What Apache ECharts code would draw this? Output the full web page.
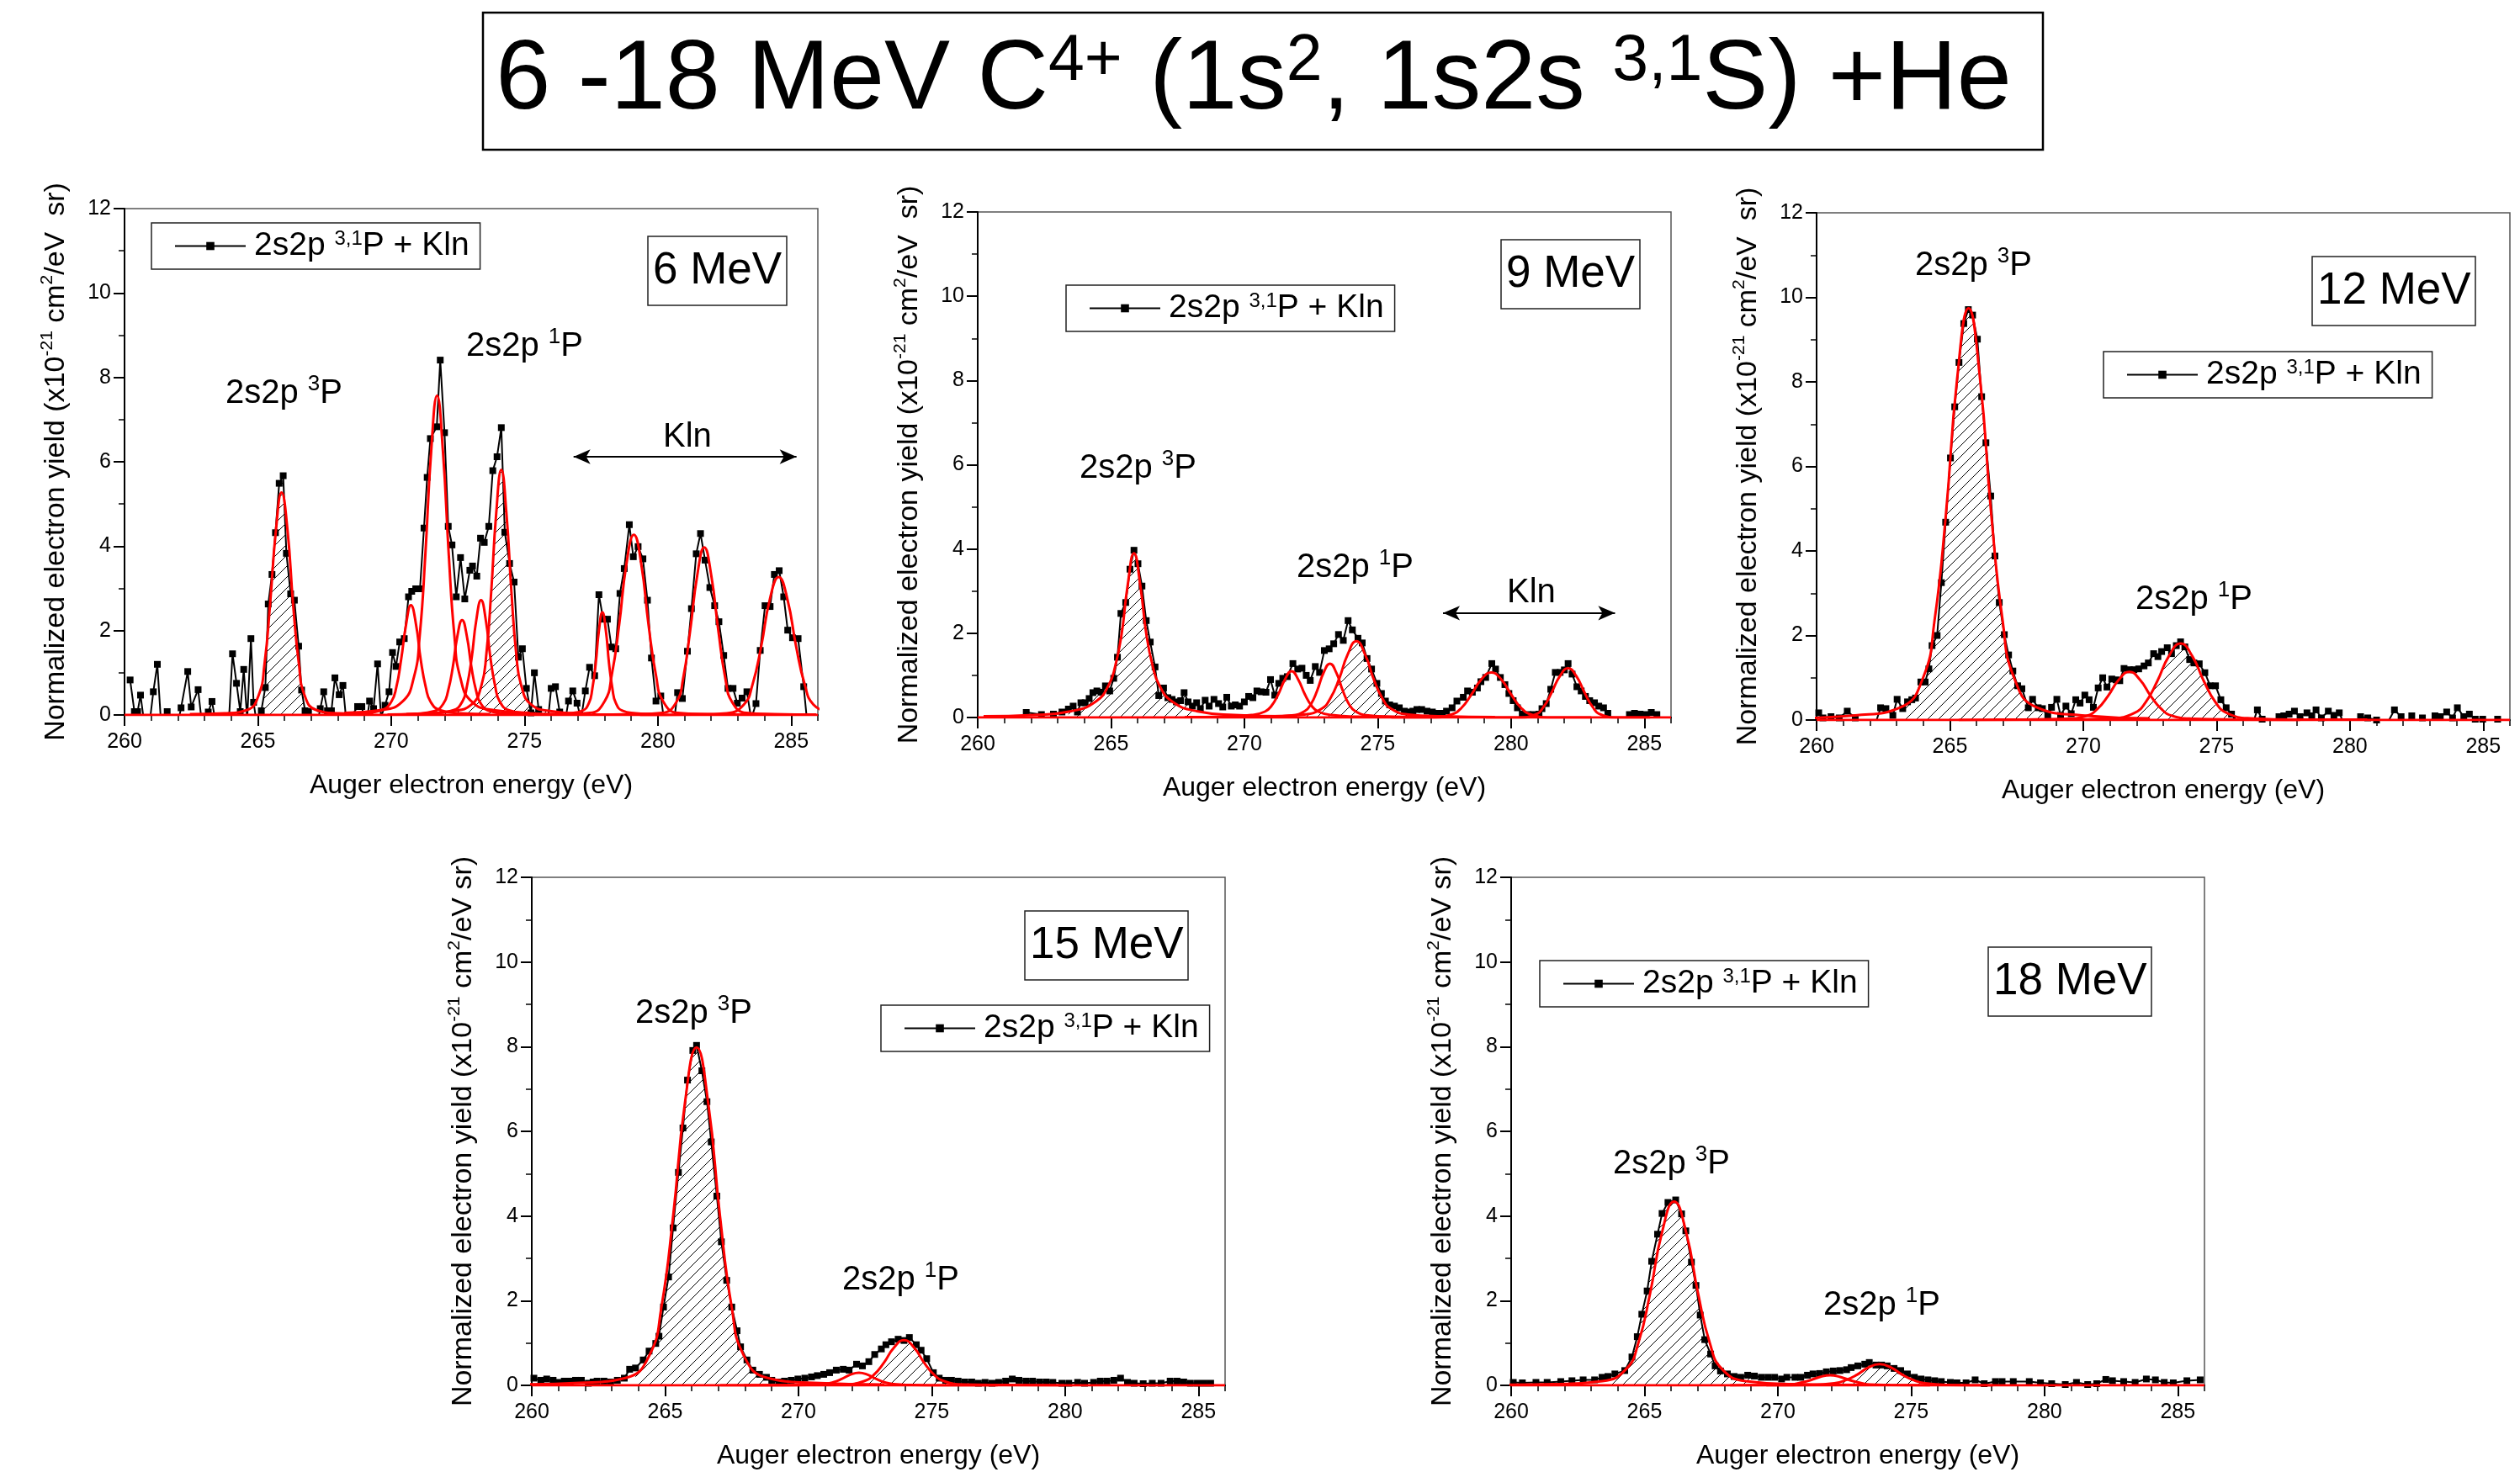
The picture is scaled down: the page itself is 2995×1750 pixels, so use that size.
<!DOCTYPE html>
<html><head><meta charset="utf-8">
<script src="https://cdn.jsdelivr.net/npm/echarts@6/dist/echarts.min.js"></script>
<style>html,body{margin:0;padding:0;background:#fff}#c{width:2995px;height:1750px}</style>
</head><body><div id="c"></div>
<script>
const FONT = '"Liberation Sans", Arial, Helvetica, sans-serif';
const panelNames = ['6 MeV', '9 MeV', '12 MeV', '15 MeV', '18 MeV'];
const xTicks = [260, 265, 270, 275, 280, 285];
const yTicks = [0, 2, 4, 6, 8, 10, 12];
const seriesName = '2s2p 3,1P + Kln';
const legendText = '2s2p {sup|3,1}P + Kln';
const titleText = '6 -18 MeV C{sup|4+} (1s{sup|2}, 1s2s {sup|3,1}S) +He';
const xName = 'Auger electron energy (eV)';
const yNameA = 'Normalized electron yield (x10{sup|-21} cm{sup|2}/eV  sr)';
const yNameB = 'Normalized electron yield (x10{sup|-21} cm{sup|2}/eV sr)';
const label3P = '2s2p {sup|3}P';
const label1P = '2s2p {sup|1}P';
const labelKln = 'Kln';

// measured spectra [energy eV, yield]
const data6 = [[260.21,0.83],[260.37,0.08],[260.49,0.08],[260.6,0.47],[260.76,-0.3],[260.92,-0.3],[261.08,0.55],[261.23,1.2],[261.38,-0.3],[261.6,0.08],[261.8,-0.3],[261.97,-0.3],[262.12,0.17],[262.37,1.03],[262.5,0.19],[262.76,0.6],[262.92,-0.3],[263.14,0.07],[263.28,0.32],[263.45,-0.3],[263.6,-0.3],[263.75,-0.3],[263.9,-0.3],[264.05,1.45],[264.2,0.75],[264.34,0.08],[264.47,1.08],[264.6,-0.1],[264.74,1.81],[264.84,0.3],[264.98,-0.3],[265.13,0.1],[265.28,0.65],[265.39,2.63],[265.53,3.33],[265.66,4.32],[265.8,5.49],[265.95,5.67],[266.07,3.83],[266.23,2.87],[266.37,2.72],[266.53,1.63],[266.64,0.59],[266.77,0.1],[266.9,0.08],[267.05,-0.3],[267.2,-0.3],[267.34,0.15],[267.47,0.55],[267.61,0.1],[267.76,0.1],[267.89,0.88],[268.05,0.48],[268.19,0.7],[268.34,-0.3],[268.5,-0.05],[268.74,0.2],[268.9,0.2],[269.05,-0.3],[269.19,0.33],[269.34,0.15],[269.49,1.21],[269.62,-0.05],[269.77,0.23],[269.92,0.55],[270.05,1.48],[270.18,1.15],[270.32,1.73],[270.49,1.81],[270.65,2.8],[270.77,2.93],[270.92,2.99],[271.08,2.99],[271.23,4.43],[271.35,5.63],[271.47,6.55],[271.71,6.83],[271.84,8.41],[272.0,6.69],[272.14,4.47],[272.28,4.03],[272.44,2.8],[272.6,3.73],[272.76,2.75],[272.95,3.43],[273.05,3.53],[273.21,3.29],[273.35,4.19],[273.49,4.09],[273.66,4.47],[273.81,5.79],[273.97,6.12],[274.13,6.81],[274.26,4.33],[274.44,3.59],[274.61,3.15],[274.77,1.37],[274.92,1.57],[275.07,0.63],[275.24,0.05],[275.37,1.0],[275.53,0.13],[275.7,-0.3],[275.85,-0.3],[276.0,0.63],[276.16,0.67],[276.32,0.07],[276.48,-0.3],[276.65,0.33],[276.81,0.57],[276.97,0.28],[277.12,-0.1],[277.28,0.57],[277.44,1.13],[277.63,0.93],[277.79,2.85],[277.95,2.27],[278.11,2.27],[278.26,1.61],[278.42,1.57],[278.58,2.88],[278.74,3.47],[278.93,4.51],[279.08,3.75],[279.26,3.99],[279.44,3.7],[279.61,2.72],[279.76,1.35],[279.93,0.33],[280.11,0.45],[280.27,-0.3],[280.43,-0.3],[280.58,-0.3],[280.74,0.53],[280.92,0.39],[281.11,1.51],[281.26,2.52],[281.44,3.82],[281.6,4.3],[281.77,3.67],[281.95,3.02],[282.13,2.59],[282.29,2.21],[282.47,1.41],[282.63,0.63],[282.82,0.63],[282.98,0.28],[283.16,0.4],[283.34,0.55],[283.5,-0.1],[283.68,0.27],[283.84,1.53],[284.02,2.59],[284.21,2.57],[284.37,3.33],[284.55,3.42],[284.72,2.8],[284.87,2.01],[285.05,1.83],[285.26,1.81],[285.47,0.67],[285.62,-0.3]];
const data9 = [[261.82,0.12],[262.39,0.07],[262.84,0.08],[263.16,0.13],[263.4,0.2],[263.58,0.27],[263.74,0.13],[263.87,0.35],[264.03,0.35],[264.18,0.45],[264.32,0.59],[264.47,0.63],[264.63,0.6],[264.79,0.75],[264.95,0.63],[265.1,0.93],[265.24,1.43],[265.37,2.47],[265.55,2.73],[265.71,3.52],[265.86,3.97],[266.01,3.65],[266.16,3.12],[266.32,2.3],[266.47,1.79],[266.65,1.2],[266.79,0.52],[266.97,0.7],[267.13,0.47],[267.29,0.43],[267.45,0.37],[267.61,0.4],[267.74,0.59],[267.89,0.37],[268.05,0.27],[268.21,0.35],[268.35,0.21],[268.53,0.41],[268.68,0.27],[268.86,0.43],[269.03,0.33],[269.19,0.25],[269.34,0.48],[269.51,0.27],[269.66,0.3],[269.82,0.27],[270.0,0.37],[270.16,0.5],[270.32,0.47],[270.47,0.63],[270.63,0.61],[270.81,0.6],[270.98,0.9],[271.14,0.53],[271.29,0.81],[271.44,0.93],[271.61,0.97],[271.82,1.28],[272.0,1.15],[272.16,1.17],[272.32,1.0],[272.47,0.88],[272.66,1.21],[272.82,1.07],[273.0,1.59],[273.18,1.63],[273.35,1.75],[273.53,1.97],[273.71,1.83],[273.89,2.3],[274.05,2.08],[274.26,1.88],[274.42,1.77],[274.6,1.4],[274.77,1.15],[274.97,0.81],[275.14,0.57],[275.29,0.39],[275.45,0.3],[275.63,0.27],[275.81,0.23],[276.0,0.15],[276.16,0.13],[276.32,0.15],[276.47,0.19],[276.65,0.19],[276.85,0.15],[277.05,0.13],[277.25,0.1],[277.42,0.1],[277.58,0.15],[277.79,0.23],[277.97,0.39],[278.21,0.48],[278.37,0.63],[278.55,0.6],[278.74,0.7],[278.87,0.85],[279.05,0.95],[279.28,1.28],[279.42,1.15],[279.6,0.95],[279.77,0.78],[279.92,0.57],[280.08,0.4],[280.24,0.23],[280.42,0.08],[280.63,0.07],[280.84,0.07],[281.05,0.08],[281.16,0.21],[281.32,0.33],[281.49,0.67],[281.66,1.07],[281.84,1.07],[282.0,1.13],[282.14,1.28],[282.29,1.03],[282.47,0.73],[282.63,0.63],[282.79,0.5],[282.95,0.4],[283.13,0.35],[283.29,0.27],[283.47,0.23],[283.63,0.1],[283.8,-0.3],[284.0,-0.3],[284.2,-0.3],[284.44,0.07],[284.63,0.1],[284.84,0.08],[285.07,0.07],[285.26,0.12],[285.47,0.07]];
const data12 = [[260.08,0.17],[260.24,0.05],[260.54,0.08],[260.85,0.05],[261.15,0.21],[261.45,0.05],[261.7,-0.3],[262.0,-0.3],[262.2,-0.1],[262.4,0.29],[262.6,0.27],[262.86,0.11],[263.02,0.49],[263.23,0.27],[263.41,0.43],[263.57,0.48],[263.71,0.52],[263.91,0.9],[264.07,0.9],[264.21,1.21],[264.33,1.76],[264.52,2.0],[264.68,3.25],[264.84,4.68],[265.02,6.2],[265.18,7.41],[265.34,8.46],[265.52,9.38],[265.69,9.71],[265.85,9.58],[266.03,9.01],[266.19,7.65],[266.35,6.56],[266.53,5.3],[266.69,3.88],[266.85,2.78],[267.04,2.02],[267.2,1.54],[267.36,1.16],[267.54,0.81],[267.7,0.74],[267.94,0.29],[268.1,0.49],[268.31,0.29],[268.47,0.27],[268.67,0.1],[268.81,0.3],[269.01,0.49],[269.15,0.11],[269.35,0.33],[269.55,0.15],[269.72,0.48],[269.88,0.4],[270.06,0.59],[270.22,0.48],[270.38,0.3],[270.56,0.76],[270.73,1.0],[270.89,0.78],[271.07,0.97],[271.23,0.95],[271.37,0.93],[271.53,1.22],[271.73,1.19],[271.9,1.19],[272.08,1.21],[272.28,1.28],[272.44,1.35],[272.64,1.57],[272.8,1.5],[272.94,1.62],[273.15,1.71],[273.31,1.57],[273.49,1.76],[273.65,1.85],[273.81,1.73],[273.99,1.43],[274.15,1.35],[274.35,1.33],[274.56,1.12],[274.76,0.81],[274.96,0.81],[275.16,0.48],[275.36,0.29],[275.56,0.14],[275.8,-0.1],[276.1,-0.3],[276.35,-0.1],[276.53,0.24],[276.71,0.02],[276.95,-0.2],[277.15,-0.1],[277.34,0.08],[277.52,0.1],[277.72,0.14],[277.92,0.21],[278.13,0.08],[278.39,0.17],[278.57,0.1],[278.73,0.24],[278.93,0.05],[279.19,0.21],[279.4,0.11],[279.6,0.17],[279.85,-0.2],[280.1,-0.2],[280.4,0.08],[280.67,0.05],[281.0,0.0],[281.3,-0.2],[281.67,0.24],[281.92,0.08],[282.1,-0.1],[282.32,0.1],[282.5,-0.1],[282.72,0.05],[282.95,-0.1],[283.19,0.1],[283.39,0.08],[283.63,0.19],[283.85,0.05],[284.03,0.29],[284.27,0.08],[284.48,0.14],[284.7,0.02],[284.98,0.02],[285.25,-0.1],[285.54,0.02]];
const data15 = [[260.08,0.17],[260.34,0.12],[260.56,0.15],[260.8,0.12],[261.02,0.07],[261.22,0.1],[261.44,0.1],[261.64,0.12],[261.86,0.12],[262.12,0.05],[262.3,0.08],[262.45,0.1],[262.71,0.1],[262.96,0.08],[263.21,0.12],[263.47,0.17],[263.67,0.38],[263.89,0.41],[264.18,0.6],[264.4,0.81],[264.65,0.99],[264.77,1.16],[264.94,1.85],[265.13,2.56],[265.3,3.72],[265.5,5.03],[265.67,6.08],[265.84,7.21],[266.04,7.91],[266.18,8.03],[266.38,7.43],[266.57,6.7],[266.73,5.75],[266.94,4.47],[267.11,3.39],[267.31,2.48],[267.5,1.85],[267.7,1.29],[267.83,0.91],[268.07,0.6],[268.29,0.36],[268.54,0.26],[268.8,0.19],[269.0,0.12],[269.26,0.08],[269.48,0.1],[269.73,0.12],[269.98,0.15],[270.24,0.17],[270.49,0.2],[270.71,0.23],[270.95,0.26],[271.17,0.3],[271.42,0.36],[271.68,0.38],[271.9,0.36],[272.18,0.5],[272.4,0.46],[272.64,0.56],[272.86,0.73],[273.11,0.86],[273.28,0.96],[273.49,1.03],[273.74,1.09],[273.96,1.06],[274.16,1.13],[274.42,0.96],[274.6,0.83],[274.81,0.63],[275.06,0.3],[275.28,0.17],[275.52,0.12],[275.74,0.12],[275.99,0.1],[276.24,0.08],[276.5,0.08],[276.75,0.05],[277.0,0.07],[277.26,0.05],[277.51,0.07],[277.77,0.1],[278.02,0.15],[278.27,0.12],[278.53,0.1],[278.78,0.1],[279.04,0.08],[279.29,0.08],[279.54,0.07],[279.88,0.05],[280.14,0.05],[280.47,0.07],[280.73,0.05],[281.07,0.07],[281.32,0.1],[281.57,0.1],[281.83,0.12],[282.08,0.17],[282.34,0.07],[282.59,0.05],[282.93,0.04],[283.27,0.05],[283.6,0.05],[283.94,0.1],[284.2,0.1],[284.45,0.08],[284.7,0.05],[284.96,0.05],[285.21,0.05],[285.46,0.05]];
const data18 = [[260.08,0.07],[260.42,0.06],[260.93,0.07],[261.35,0.07],[261.86,0.09],[262.28,0.11],[262.7,0.13],[263.13,0.13],[263.41,0.19],[263.63,0.21],[263.89,0.27],[264.26,0.35],[264.53,0.67],[264.73,1.15],[264.9,1.68],[265.1,2.23],[265.27,2.93],[265.49,3.57],[265.66,4.06],[265.88,4.32],[266.17,4.38],[266.39,4.05],[266.55,3.65],[266.76,2.91],[266.93,2.36],[267.09,1.66],[267.26,1.08],[267.48,0.74],[267.65,0.46],[267.85,0.34],[268.11,0.27],[268.36,0.21],[268.61,0.19],[268.87,0.24],[269.12,0.22],[269.38,0.19],[269.63,0.19],[269.88,0.19],[270.14,0.15],[270.34,0.19],[270.64,0.19],[270.86,0.19],[271.11,0.24],[271.32,0.27],[271.57,0.28],[271.82,0.32],[272.08,0.34],[272.33,0.35],[272.58,0.37],[272.75,0.42],[273.0,0.46],[273.26,0.5],[273.43,0.54],[273.68,0.48],[273.89,0.48],[274.1,0.46],[274.36,0.4],[274.61,0.35],[274.86,0.27],[275.12,0.19],[275.37,0.15],[275.63,0.13],[275.88,0.11],[276.13,0.09],[276.47,0.07],[276.72,0.06],[277.06,0.06],[277.4,0.13],[277.74,0.04],[278.16,0.09],[278.41,0.09],[278.83,0.09],[279.43,0.09],[279.85,0.06],[280.27,0.04],[280.78,0.02],[281.2,0.07],[281.62,0.02],[281.96,0.04],[282.3,0.14],[282.55,0.11],[282.97,0.09],[283.4,0.07],[283.82,0.15],[284.16,0.13],[284.49,0.07],[284.83,0.06],[285.34,0.11],[285.84,0.13]];

// fitted components (red curves)
const fit6 = [
 [[262.45,0.02],[263.74,0.04],[264.6,0.12],[265.03,0.47],[265.25,1.21],[265.46,2.64],[265.68,4.39],[265.89,5.27],[266.11,4.39],[266.32,2.64],[266.54,1.21],[266.75,0.47],[267.18,0.12],[268.04,0.04],[269.33,0.02]],
 [[267.78,0.02],[268.89,0.04],[269.63,0.11],[270.0,0.31],[270.19,0.65],[270.37,1.3],[270.56,2.15],[270.74,2.6],[270.93,2.15],[271.11,1.3],[271.3,0.65],[271.48,0.31],[271.85,0.11],[272.59,0.04],[273.7,0.02]],
 [[268.24,0.05],[269.54,0.11],[270.41,0.31],[270.85,0.89],[271.07,1.88],[271.28,3.79],[271.5,6.25],[271.72,7.57],[271.94,6.25],[272.16,3.79],[272.37,1.88],[272.59,0.89],[273.03,0.31],[273.9,0.11],[275.2,0.05]],
 [[269.86,0.01],[270.91,0.03],[271.61,0.09],[271.96,0.27],[272.13,0.56],[272.31,1.13],[272.48,1.86],[272.66,2.25],[272.84,1.86],[273.01,1.13],[273.19,0.56],[273.36,0.27],[273.71,0.09],[274.41,0.03],[275.46,0.01]],
 [[270.57,0.02],[271.62,0.04],[272.32,0.11],[272.67,0.32],[272.84,0.68],[273.02,1.36],[273.19,2.24],[273.37,2.72],[273.55,2.24],[273.72,1.36],[273.9,0.68],[274.07,0.32],[274.42,0.11],[275.12,0.04],[276.17,0.02]],
 [[271.13,0.03],[272.25,0.09],[273.0,0.24],[273.38,0.69],[273.57,1.45],[273.75,2.91],[273.94,4.79],[274.13,5.81],[274.32,4.79],[274.51,2.91],[274.69,1.45],[274.88,0.69],[275.26,0.24],[276.01,0.09],[277.13,0.03]],
 [[275.92,0.01],[276.67,0.04],[277.17,0.1],[277.42,0.29],[277.54,0.61],[277.67,1.22],[277.79,2.0],[277.92,2.43],[278.05,2.0],[278.17,1.22],[278.3,0.61],[278.42,0.29],[278.67,0.1],[279.17,0.04],[279.92,0.01]],
 [[274.7,0.01],[276.35,0.02],[277.45,0.05],[278.0,0.32],[278.27,0.94],[278.55,2.14],[278.82,3.57],[279.1,4.27],[279.38,3.57],[279.65,2.14],[279.93,0.94],[280.2,0.32],[280.75,0.05],[281.85,0.02],[283.5,0.01]],
 [[277.54,0.01],[279.11,0.02],[280.16,0.05],[280.69,0.3],[280.95,0.87],[281.21,1.99],[281.48,3.32],[281.74,3.97],[282.0,3.32],[282.27,1.99],[282.53,0.87],[282.79,0.3],[283.32,0.05],[284.37,0.02],[285.94,0.01]],
 [[279.33,0.0],[281.28,0.01],[282.58,0.04],[283.23,0.25],[283.55,0.72],[283.88,1.64],[284.2,2.74],[284.53,3.27],[284.86,2.74],[285.18,1.64],[285.51,0.72],[285.83,0.25],[286.48,0.04]]
];
const fit9 = [
 [[260.22,0.03],[262.1,0.06],[263.51,0.15],[264.45,0.39],[264.92,0.78],[265.15,1.2],[265.39,1.95],[265.62,3.12],[265.86,3.9],[266.1,3.12],[266.33,1.95],[266.57,1.2],[266.8,0.78],[267.27,0.39],[268.21,0.15],[269.62,0.06],[271.5,0.03]],
 [[267.77,0.01],[269.27,0.02],[270.27,0.06],[270.77,0.14],[271.02,0.28],[271.27,0.55],[271.52,0.9],[271.77,1.1],[272.02,0.9],[272.27,0.55],[272.52,0.28],[272.77,0.14],[273.27,0.06],[274.27,0.02],[275.77,0.01]],
 [[269.41,0.01],[270.83,0.02],[271.78,0.05],[272.26,0.15],[272.5,0.32],[272.73,0.64],[272.97,1.06],[273.21,1.28],[273.45,1.06],[273.69,0.64],[273.92,0.32],[274.16,0.15],[274.64,0.05],[275.59,0.02],[277.01,0.01]],
 [[269.0,0.01],[270.95,0.03],[272.25,0.07],[272.9,0.21],[273.22,0.45],[273.55,0.91],[273.87,1.49],[274.2,1.81],[274.53,1.49],[274.85,0.91],[275.18,0.45],[275.5,0.21],[276.15,0.07],[277.45,0.03],[279.4,0.01]],
 [[275.51,0],[277.01,0],[277.76,0.07],[278.13,0.22],[278.51,0.54],[278.88,0.9],[279.26,1.07],[279.64,0.9],[280.01,0.54],[280.39,0.22],[280.76,0.07],[281.51,0],[283.01,0]],
 [[279.06,0],[280.29,0],[280.91,0.07],[281.22,0.25],[281.52,0.59],[281.83,0.98],[282.14,1.17],[282.45,0.98],[282.76,0.59],[283.06,0.25],[283.37,0.07],[283.99,0],[285.22,0]]
];
const fit12 = [
 [[258.9,0.04],[261.45,0.11],[263.15,0.3],[264.0,1.01],[264.42,2.34],[264.85,4.87],[265.27,8.07],[265.7,9.74],[266.13,8.07],[266.55,4.87],[266.98,2.34],[267.4,1.01],[268.25,0.3],[269.95,0.11],[272.5,0.04]],
 [[265.33,0],[267.73,0.01],[269.33,0.03],[270.13,0.1],[270.53,0.26],[270.93,0.57],[271.33,0.95],[271.73,1.14],[272.13,0.95],[272.53,0.57],[272.93,0.26],[273.33,0.1],[274.13,0.03],[275.73,0.01],[278.13,0]],
 [[266.65,0.01],[269.27,0.01],[271.02,0.04],[271.9,0.16],[272.34,0.42],[272.77,0.91],[273.21,1.51],[273.65,1.81],[274.09,1.51],[274.53,0.91],[274.96,0.42],[275.4,0.16],[276.28,0.04],[278.03,0.01],[280.65,0.01]]
];
const fit15 = [
 [[259.14,0.02],[261.78,0.06],[263.54,0.18],[264.42,0.72],[264.86,1.84],[265.3,3.99],[265.74,6.65],[266.18,7.98],[266.62,6.65],[267.06,3.99],[267.5,1.84],[267.94,0.72],[268.82,0.18],[270.58,0.06],[273.22,0.02]],
 [[267.07,0],[269.02,0],[270.32,0.01],[270.97,0.03],[271.29,0.07],[271.62,0.15],[271.94,0.25],[272.27,0.3],[272.6,0.25],[272.92,0.15],[273.25,0.07],[273.57,0.03],[274.22,0.01],[275.52,0],[277.47,0]],
 [[267.96,0],[270.21,0.01],[271.71,0.02],[272.46,0.1],[272.83,0.25],[273.21,0.54],[273.58,0.89],[273.96,1.07],[274.34,0.89],[274.71,0.54],[275.09,0.25],[275.46,0.1],[276.21,0.02],[277.71,0.01],[279.96,0]]
];
const fit18 = [
 [[258.95,0.01],[261.63,0.03],[263.42,0.1],[264.32,0.39],[264.77,1.0],[265.21,2.17],[265.66,3.62],[266.11,4.34],[266.56,3.62],[267.01,2.17],[267.45,1.0],[267.9,0.39],[268.8,0.1],[270.59,0.03],[273.27,0.01]],
 [[268.21,0],[269.71,0.01],[270.46,0.02],[270.83,0.06],[271.21,0.12],[271.58,0.2],[271.96,0.24],[272.34,0.2],[272.71,0.12],[273.09,0.06],[273.46,0.02],[274.21,0.01],[275.71,0]],
 [[269.57,0],[271.27,0.01],[272.12,0.05],[272.54,0.12],[272.97,0.25],[273.39,0.42],[273.82,0.5],[274.25,0.42],[274.67,0.25],[275.1,0.12],[275.52,0.05],[276.37,0.01],[278.07,0]]
];
const fitBaseline = [[260, 0], [286, 0]];
const main1P = [5, 3, 2, 2, 2];            // index of the hatched 2s2p 1P component
const hatch3P = [[265.1, 266.8], [263.2, 268.1], [263.1, 268.6], [263.7, 269.2], [263.6, 269.3]];
const klnArrows = [[[276.84, 6.12], [285.2, 6.12]], [[277.45, 2.48], [283.9, 2.48]], null, null, null];

const dataSets = [data6, data9, data12, data15, data18];
const fitSets = [fit6, fit9, fit12, fit15, fit18];

// layout
const grids = [
  {left: 148, top: 248, width: 824, height: 602},
  {left: 1162, top: 252, width: 824, height: 601},
  {left: 2159, top: 253, width: 824, height: 603},
  {left: 632, top: 1043, width: 824, height: 604},
  {left: 1796, top: 1043, width: 824, height: 604}
];
const legendPos = [[180, 265], [1267, 339], [2500, 418], [1047, 1195], [1830, 1142]];
const boxPos = [[770, 281], [1784, 285], [2748, 305], [1218, 1083], [2363, 1126]];

function makeHatch() {
  const s = 13;
  const c = document.createElement('canvas');
  c.width = s; c.height = s;
  const g = c.getContext('2d');
  g.strokeStyle = '#000'; g.lineWidth = 1;
  g.beginPath();
  g.moveTo(0, s); g.lineTo(s, 0);
  g.moveTo(-2, 2); g.lineTo(2, -2);
  g.moveTo(s - 2, s + 2); g.lineTo(s + 2, s - 2);
  g.stroke();
  return {image: c, repeat: 'repeat'};
}
const hatch = makeHatch();

const chart = echarts.init(document.getElementById('c'), null, {renderer: 'canvas', width: 2995, height: 1750});

const supRich = (fs) => ({sup: {fontSize: fs, lineHeight: fs, verticalAlign: 'top', fontFamily: FONT, color: '#000', fill: '#000'}});

const xAxes = [], yAxes = [], series = [];
grids.forEach((g, k) => {
  xAxes.push({
    gridIndex: k, type: 'value', min: 260, max: 286, interval: 5, position: 'bottom',
    axisLine: {show: true, onZero: false, lineStyle: {color: '#000', width: 2}},
    axisTick: {show: true, length: 13, customValues: xTicks, lineStyle: {color: '#000', width: 2}},
    axisLabel: {fontSize: 25, fontFamily: FONT, color: '#000', margin: 20,
      formatter: v => (xTicks.indexOf(v) >= 0 ? String(v) : '')},
    splitLine: {show: false},
    name: xName, nameLocation: 'middle', nameGap: 68,
    nameTextStyle: {fontSize: 32, fontFamily: FONT, color: '#000'}
  });
  xAxes.push({
    gridIndex: k, type: 'value', min: 260, max: 286, interval: 1, position: 'top', offset: -g.height,
    axisLine: {show: false}, axisLabel: {show: false}, splitLine: {show: false},
    axisTick: {show: true, inside: true, length: 7, lineStyle: {color: '#000', width: 1.5}}
  });
  yAxes.push({
    gridIndex: k, type: 'value', min: 0, max: 12, interval: 2, position: 'left',
    axisLine: {show: true, lineStyle: {color: '#000', width: 2}},
    axisTick: {show: true, length: 13, lineStyle: {color: '#000', width: 2}},
    minorTick: {show: true, splitNumber: 2, length: 7, lineStyle: {color: '#000', width: 1.5}},
    axisLabel: {fontSize: 25, fontFamily: FONT, color: '#000', margin: 16},
    splitLine: {show: false}, minorSplitLine: {show: false},
    name: k < 3 ? yNameA : yNameB, nameLocation: 'middle', nameGap: 61,
    nameTextStyle: {fontSize: 34, fontFamily: FONT, color: '#000', lineHeight: 41, rich: supRich(21)}
  });

  const d = dataSets[k];
  const [lo, hi] = hatch3P[k];
  const xi = 2 * k;
  series.push({
    type: 'line', xAxisIndex: xi, yAxisIndex: k, silent: true, z: 1,
    data: d.filter(p => p[0] >= lo && p[0] <= hi),
    symbol: 'none', lineStyle: {opacity: 0}, areaStyle: {color: hatch, opacity: 1}
  });
  series.push({
    type: 'line', xAxisIndex: xi, yAxisIndex: k, silent: true, z: 1,
    data: fitSets[k][main1P[k]], smooth: 0.5,
    symbol: 'none', lineStyle: {opacity: 0}, areaStyle: {color: hatch, opacity: 1}
  });
  series.push({
    name: seriesName, type: 'line', xAxisIndex: xi, yAxisIndex: k, z: 2,
    data: d, symbol: 'rect', symbolSize: 8, clip: true,
    lineStyle: {color: '#000', width: 2}, itemStyle: {color: '#000'}
  });
  fitSets[k].forEach(c => {
    series.push({
      type: 'line', xAxisIndex: xi, yAxisIndex: k, z: 3, silent: true,
      data: c, smooth: 0.5, symbol: 'none', clip: true,
      lineStyle: {color: '#ff0000', width: 3}
    });
  });
  const base = {
    type: 'line', xAxisIndex: xi, yAxisIndex: k, z: 3, silent: true,
    data: fitBaseline, symbol: 'none', lineStyle: {color: '#ff0000', width: 3}
  };
  if (klnArrows[k]) {
    base.markLine = {
      silent: true, symbol: ['arrow', 'arrow'], symbolSize: [13, 20], animation: false,
      label: {show: false}, lineStyle: {color: '#000', width: 2, type: 'solid'},
      data: [[{coord: klnArrows[k][0]}, {coord: klnArrows[k][1]}]]
    };
  }
  series.push(base);
});

const titles = panelNames.map((t, k) => ({
  text: t, left: boxPos[k][0], top: boxPos[k][1], padding: [11, 6],
  borderColor: '#222', borderWidth: 1.5, backgroundColor: '#fff',
  textStyle: {fontSize: 53, fontWeight: 'normal', fontFamily: FONT, color: '#000', lineHeight: 60}
}));

const legends = grids.map((g, k) => ({
  data: [seriesName], left: legendPos[k][0], top: legendPos[k][1], orient: 'horizontal',
  selectedMode: false, borderColor: '#222', borderWidth: 1.5, backgroundColor: '#fff',
  padding: [7, 13, 7, 27], itemWidth: 84, itemHeight: 12, itemGap: 0,
  formatter: () => legendText,
  textStyle: {fontSize: 39, fontFamily: FONT, color: '#000', lineHeight: 41, padding: [0, 0, 0, 5], rich: supRich(24)}
}));

function peakLabel(x, y, text) {
  return {
    type: 'text', x: x, y: y, silent: true, z: 10,
    style: {text: text, fontSize: 40, fontFamily: FONT, fill: '#000', lineHeight: 48,
      align: 'left', verticalAlign: 'middle',
      rich: {sup: {fontSize: 26, lineHeight: 26, verticalAlign: 'top', fontFamily: FONT, fill: '#000'}}}
  };
}

const graphics = [
  {type: 'rect', shape: {x: 574, y: 15, width: 1854, height: 163}, style: {fill: '#fff', stroke: '#000', lineWidth: 2.5}, z: 0, silent: true},
  {type: 'text', x: 1490, y: 97, z: 10, silent: true,
    style: {text: titleText, fontSize: 117, fontFamily: FONT, fill: '#000', lineHeight: 124,
      align: 'center', verticalAlign: 'middle',
      rich: {sup: {fontSize: 77, lineHeight: 77, verticalAlign: 'top', fontFamily: FONT, fill: '#000'}}}},
  peakLabel(268, 468, label3P), peakLabel(554, 412, label1P), peakLabel(788, 520, labelKln),
  peakLabel(1283, 557, label3P), peakLabel(1541, 675, label1P), peakLabel(1791, 705, labelKln),
  peakLabel(2276, 316, label3P), peakLabel(2538, 713, label1P),
  peakLabel(755, 1205, label3P), peakLabel(1001, 1522, label1P),
  peakLabel(1917, 1384, label3P), peakLabel(2167, 1552, label1P)
];

chart.setOption({
  backgroundColor: '#fff',
  animation: false,
  title: titles,
  legend: legends,
  grid: grids.map(g => Object.assign({show: true, borderColor: '#555', borderWidth: 1.5, backgroundColor: 'transparent'}, g)),
  xAxis: xAxes,
  yAxis: yAxes,
  series: series,
  graphic: graphics
});
</script>
</body></html>
